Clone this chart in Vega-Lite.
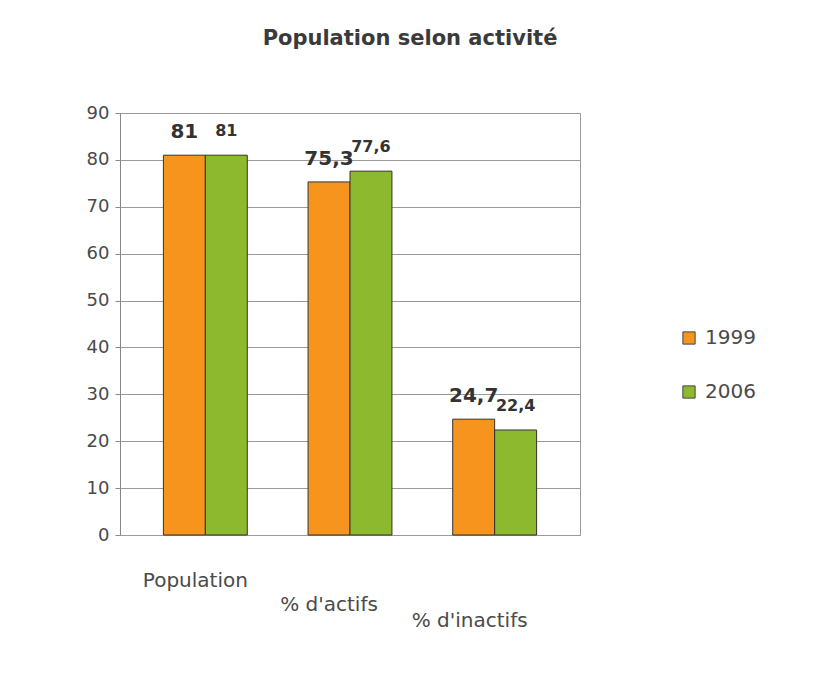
{
  "$schema": "https://vega.github.io/schema/vega-lite/v6.json",
  "autosize": {"type": "none"},
  "width": 460,
  "height": 422,
  "padding": {"left": 120, "top": 113, "right": 233, "bottom": 139},
  "background": "white",
  "title": {
    "text": "Population selon activité",
    "font": "DejaVu Sans",
    "fontSize": 21,
    "fontWeight": "bold",
    "color": "#3a3a3a",
    "anchor": "middle",
    "frame": "group",
    "dx": 60,
    "offset": 55
  },
  "data": {
    "values": [
      {"categorie": "Population", "annee": "1999", "valeur": 81, "label": "81"},
      {"categorie": "Population", "annee": "2006", "valeur": 81, "label": "81"},
      {"categorie": "% d'actifs", "annee": "1999", "valeur": 75.3, "label": "75,3"},
      {"categorie": "% d'actifs", "annee": "2006", "valeur": 77.6, "label": "77,6"},
      {"categorie": "% d'inactifs", "annee": "1999", "valeur": 24.7, "label": "24,7"},
      {"categorie": "% d'inactifs", "annee": "2006", "valeur": 22.4, "label": "22,4"}
    ]
  },
  "encoding": {
    "x": {
      "field": "categorie",
      "type": "nominal",
      "sort": ["Population", "% d'actifs", "% d'inactifs"],
      "scale": {"paddingInner": 0.42, "paddingOuter": 0.3},
      "axis": {
        "title": null,
        "labelAngle": 0,
        "labelFont": "DejaVu Sans",
        "labelFontSize": 20,
        "labelColor": "#4a4a4a",
        "ticks": false,
        "domain": false,
        "labelPadding": {"condition": [
          {"test": "datum.value == 'Population'", "value": 35},
          {"test": "datum.value == \"% d'actifs\"", "value": 59}
        ], "value": 75},
        "labelOffset": {"condition": [
          {"test": "datum.value == 'Population'", "value": -10},
          {"test": "datum.value == \"% d'actifs\"", "value": -21}
        ], "value": -25}
      }
    },
    "xOffset": {"field": "annee", "type": "nominal", "sort": ["1999", "2006"]},
    "y": {
      "field": "valeur",
      "type": "quantitative",
      "scale": {"domain": [0, 90]},
      "axis": {
        "title": null,
        "values": [0, 10, 20, 30, 40, 50, 60, 70, 80, 90],
        "labelFont": "DejaVu Sans",
        "labelFontSize": 18,
        "labelColor": "#4a4a4a",
        "tickColor": "#888888",
        "tickSize": 5,
        "domainColor": "#888888",
        "gridColor": "#9a9a9a",
        "gridWidth": 1,
        "labelPadding": 6
      }
    }
  },
  "layer": [
    {
      "mark": {"type": "bar", "stroke": "#333333", "strokeWidth": 1},
      "encoding": {
        "color": {
          "field": "annee",
          "type": "nominal",
          "scale": {"domain": ["1999", "2006"], "range": ["#F7941D", "#8DB92E"]},
          "legend": {
            "title": null,
            "orient": "none",
            "legendX": 559,
            "legendY": 215,
            "symbolType": "square",
            "symbolSize": 150,
            "symbolStrokeColor": "#444444",
            "symbolStrokeWidth": 1,
            "labelFont": "DejaVu Sans",
            "labelFontSize": 20,
            "labelColor": "#4a4a4a",
            "rowPadding": 34,
            "labelOffset": 6
          }
        }
      }
    },
    {
      "transform": [{"filter": "datum.annee == '1999'"}],
      "mark": {"type": "text", "baseline": "bottom", "dy": -13, "font": "DejaVu Sans", "fontWeight": "bold", "fontSize": 20, "color": "#333333"},
      "encoding": {"text": {"field": "label"}}
    },
    {
      "transform": [{"filter": "datum.annee == '2006'"}],
      "mark": {"type": "text", "baseline": "bottom", "dy": -16, "font": "DejaVu Sans", "fontWeight": "bold", "fontSize": 16, "color": "#333333"},
      "encoding": {"text": {"field": "label"}}
    }
  ],
  "config": {"view": {"stroke": "#9a9a9a"}}
}
